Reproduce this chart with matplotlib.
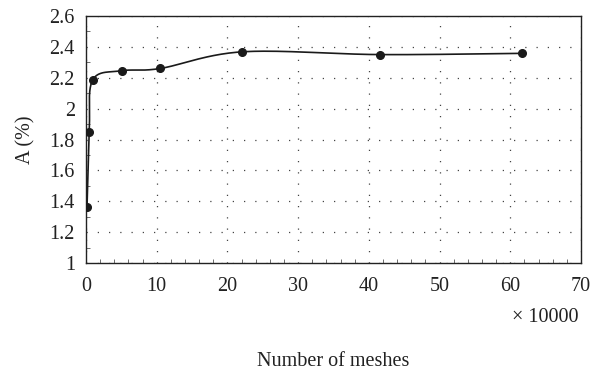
import numpy as np
import matplotlib.pyplot as plt
from matplotlib.ticker import MultipleLocator

# mesh count (x 10000) and A (%)
meshes = [0.14, 0.47, 0.94, 5.05, 10.5, 22.1, 41.6, 61.6]
a_values = [1.36, 1.85, 2.185, 2.245, 2.26, 2.368, 2.35, 2.358]

x_ticks = [0, 10, 20, 30, 40, 50, 60, 70]
y_ticks = [1, 1.2, 1.4, 1.6, 1.8, 2, 2.2, 2.4, 2.6]
y_tick_labels = ["1", "1.2", "1.4", "1.6", "1.8", "2", "2.2", "2.4", "2.6"]


def smooth_curve(x, y, n=40):
    # Catmull-Rom style spline through the points
    x = np.asarray(x, float)
    y = np.asarray(y, float)
    xs, ys = [], []
    for i in range(len(x) - 1):
        p0 = (x[i - 1], y[i - 1]) if i > 0 else (x[i], y[i])
        p1 = (x[i], y[i])
        p2 = (x[i + 1], y[i + 1])
        p3 = (x[i + 2], y[i + 2]) if i + 2 < len(x) else (x[i + 1], y[i + 1])
        t = np.linspace(0, 1, n)
        # bezier control points with reduced tension
        k = 1 / 6
        c1 = (p1[0] + (p2[0] - p0[0]) * k, p1[1] + (p2[1] - p0[1]) * k)
        c2 = (p2[0] - (p3[0] - p1[0]) * k, p2[1] - (p3[1] - p1[1]) * k)
        bx = ((1 - t) ** 3 * p1[0] + 3 * (1 - t) ** 2 * t * c1[0]
              + 3 * (1 - t) * t ** 2 * c2[0] + t ** 3 * p2[0])
        by = ((1 - t) ** 3 * p1[1] + 3 * (1 - t) ** 2 * t * c1[1]
              + 3 * (1 - t) * t ** 2 * c2[1] + t ** 3 * p2[1])
        xs.extend(bx)
        ys.extend(by)
    return np.array(xs), np.array(ys)


plt.rcParams["font.family"] = ["Liberation Serif", "DejaVu Serif"]

fig = plt.figure(figsize=(6.03, 3.71), dpi=100)
ax = fig.add_axes([86 / 603, 1 - 263 / 371, (581 - 86) / 603, (263 - 16) / 371])

sx, sy = smooth_curve(meshes, a_values)
ax.plot(sx, sy, color="#1a1a1a", linewidth=1.2, zorder=3)
ax.plot(meshes, a_values, "o", color="#1a1a1a", markersize=5.5, zorder=4)

ax.set_xlim(0, 70)
ax.set_ylim(1, 2.6)
ax.set_xticks(x_ticks)
ax.set_yticks(y_ticks)
ax.set_yticklabels(y_tick_labels)
ax.xaxis.set_minor_locator(MultipleLocator(2))
ax.yaxis.set_minor_locator(MultipleLocator(0.1))

ax.grid(True, which="major", color="#444444", linestyle=(0, (1, 8)),
        linewidth=0.9)
ax.tick_params(which="major", length=0, labelsize=14.5, colors="#222222")
ax.tick_params(axis="x", which="major", pad=10)
ax.tick_params(axis="y", which="major", pad=8)
ax.tick_params(which="minor", direction="in", length=3, width=0.6,
               colors="#555555")

for spine in ax.spines.values():
    spine.set_linewidth(1.0)
    spine.set_color("#222222")

ax.set_ylabel("A (%)", fontsize=14.5, color="#222222", labelpad=10)
fig.text(579 / 603, 1 - 318 / 371, "× 10000", ha="right", va="center",
         fontsize=14.5, color="#222222")
fig.text(333 / 603, 1 - 361 / 371, "Number of meshes", ha="center",
         va="center", fontsize=14.5, color="#222222")

fig.savefig("out.png", dpi=100)
